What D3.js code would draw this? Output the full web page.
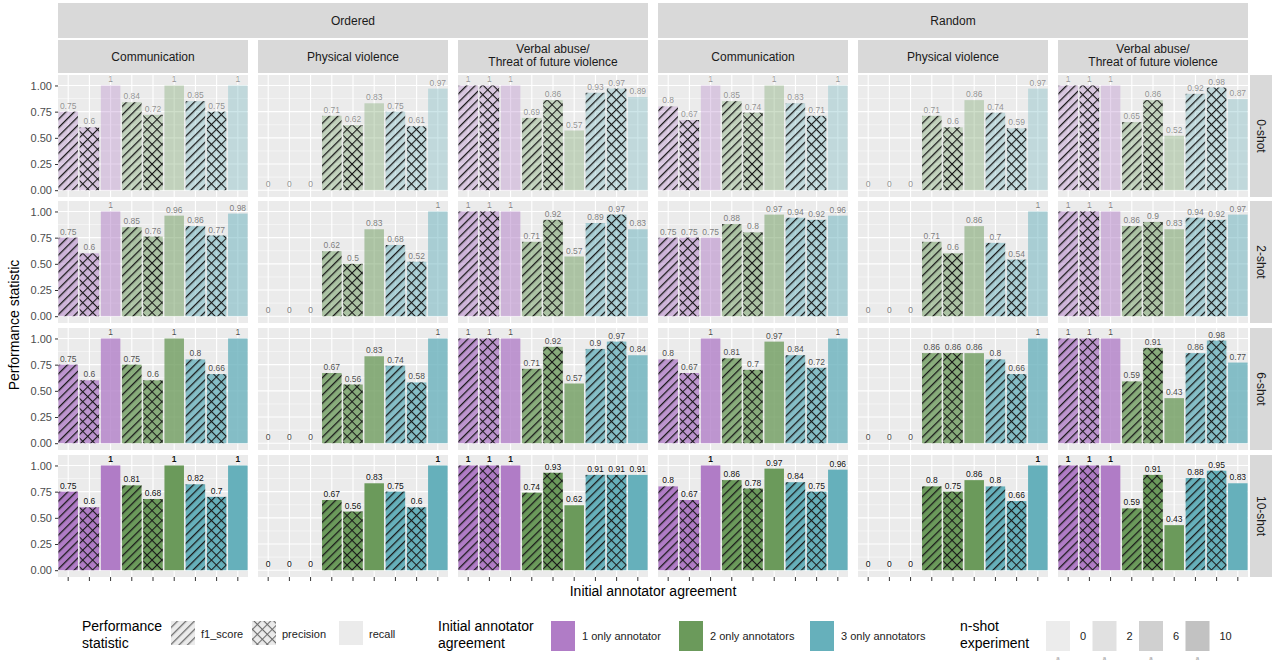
<!DOCTYPE html>
<html><head><meta charset="utf-8">
<script src="https://cdn.jsdelivr.net/npm/d3@7"></script>
<style>body{margin:0;background:#fff;font-family:"Liberation Sans",Arial,sans-serif}</style>
</head><body><svg id="c" width="1280" height="663"></svg>
<script>
const orders=["Ordered","Random"];
const categories=["Communication","Physical violence","Verbal abuse/\nThreat of future violence"];
const shots=["0-shot","2-shot","6-shot","10-shot"];
const agreements=["1 only annotator","2 only annotators","3 only annotators"];
const stats=["f1_score","precision","recall"];
const yTicks=[0,0.25,0.5,0.75,1];
// values[row][panel] : 9 bars (agreement x stat)
const shot0=[[.75,.6,1,.84,.72,1,.85,.75,1],[0,0,0,.71,.62,.83,.75,.61,.97],[1,1,1,.69,.86,.57,.93,.97,.89],
 [.8,.67,1,.85,.74,1,.83,.71,1],[0,0,0,.71,.6,.86,.74,.59,.97],[1,1,1,.65,.86,.52,.92,.98,.87]];
const shot2=[[.75,.6,1,.85,.76,.96,.86,.77,.98],[0,0,0,.62,.5,.83,.68,.52,1],[1,1,1,.71,.92,.57,.89,.97,.83],
 [.75,.75,.75,.88,.8,.97,.94,.92,.96],[0,0,0,.71,.6,.86,.7,.54,1],[1,1,1,.86,.9,.83,.94,.92,.97]];
const shot6=[[.75,.6,1,.75,.6,1,.8,.66,1],[0,0,0,.67,.56,.83,.74,.58,1],[1,1,1,.71,.92,.57,.9,.97,.84],
 [.8,.67,1,.81,.7,.97,.84,.72,1],[0,0,0,.86,.86,.86,.8,.66,1],[1,1,1,.59,.91,.43,.86,.98,.77]];
const shot10=[[.75,.6,1,.81,.68,1,.82,.7,1],[0,0,0,.67,.56,.83,.75,.6,1],[1,1,1,.74,.93,.62,.91,.91,.91],
 [.8,.67,1,.86,.78,.97,.84,.75,.96],[0,0,0,.8,.75,.86,.8,.66,1],[1,1,1,.59,.91,.43,.88,.95,.83]];
const values=[shot0,shot2,shot6,shot10];
const nshot=["0","2","6","10"];

const colors=["#b07cc6","#6b9a5b","#66b0bb"];
const alphas=[0.32,0.5,0.78,1];
const svg=d3.select("#c");
const defs=svg.append("defs");
const ps=defs.append("pattern").attr("id","stripe").attr("patternUnits","userSpaceOnUse").attr("width",6).attr("height",6).attr("patternTransform","rotate(45)");
ps.append("line").attr("x1",0).attr("y1",0).attr("x2",0).attr("y2",6).attr("stroke","#1a1a1a").attr("stroke-width",2.6);
const pc=defs.append("pattern").attr("id","cross").attr("patternUnits","userSpaceOnUse").attr("width",7).attr("height",7).attr("patternTransform","rotate(45)");
pc.append("line").attr("x1",0).attr("y1",0).attr("x2",0).attr("y2",7).attr("stroke","#1a1a1a").attr("stroke-width",2.2);
pc.append("line").attr("x1",0).attr("y1",0).attr("x2",7).attr("y2",0).attr("stroke","#1a1a1a").attr("stroke-width",2.2);

const left=58,right=1248,gap=10,pw=(right-left-5*gap)/6;
const rowTop=[75,201,328,455],ph=122;
const x=d3.scaleBand().domain(d3.range(9)).range([0,pw]).paddingInner(0.08).paddingOuter(0.02);
const fmt=v=>String(+v.toFixed(2));

orders.forEach((o,oi)=>{
  const x0=left+oi*3*(pw+gap), w=3*pw+2*gap;
  svg.append("rect").attr("x",x0).attr("y",3).attr("width",w).attr("height",35).attr("fill","#d9d9d9");
  svg.append("text").attr("x",x0+w/2).attr("y",25).attr("text-anchor","middle").attr("font-size",12).attr("fill","#1a1a1a").text(o);
  categories.forEach((c,ci)=>{
    const px=left+(oi*3+ci)*(pw+gap);
    svg.append("rect").attr("x",px).attr("y",40).attr("width",pw).attr("height",33).attr("fill","#d9d9d9");
    const lines=c.split("\n");
    lines.forEach((l,li)=>svg.append("text").attr("x",px+pw/2).attr("y",lines.length==1?61:53+li*13).attr("text-anchor","middle").attr("font-size",12).attr("fill","#1a1a1a").text(l));
  });
});

shots.forEach((s,ri)=>{
  const top=rowTop[ri];
  const y=d3.scaleLinear().domain([-0.065,1.1]).range([top+ph,top]);
  svg.append("rect").attr("x",right+2).attr("y",top).attr("width",22).attr("height",ph).attr("fill","#d9d9d9");
  svg.append("text").attr("transform",`translate(${right+9},${top+ph/2}) rotate(90)`).attr("text-anchor","middle").attr("font-size",12).attr("fill","#1a1a1a").text(s);
  const ax=svg.append("g").attr("transform",`translate(${left},0)`).call(d3.axisLeft(y).tickValues(yTicks).tickFormat(d3.format(".2f")).tickSize(3));
  ax.select(".domain").remove();
  ax.selectAll("text").attr("font-size",11).attr("fill","#4d4d4d").attr("font-family","Liberation Sans,Arial");
  ax.selectAll("line").attr("stroke","#333");
  for(let p=0;p<6;p++){
    const px=left+p*(pw+gap);
    const g=svg.append("g").attr("transform",`translate(${px},0)`);
    g.append("rect").attr("x",0).attr("y",top).attr("width",pw).attr("height",ph).attr("fill","#ebebeb");
    [0.125,0.375,0.625,0.875].forEach(t=>g.append("line").attr("x1",0).attr("x2",pw).attr("y1",y(t)).attr("y2",y(t)).attr("stroke","#fff").attr("stroke-width",0.5));
    yTicks.forEach(t=>g.append("line").attr("x1",0).attr("x2",pw).attr("y1",y(t)).attr("y2",y(t)).attr("stroke","#fff").attr("stroke-width",1.1));
    d3.range(9).forEach(i=>g.append("line").attr("x1",x(i)+x.bandwidth()/2).attr("x2",x(i)+x.bandwidth()/2).attr("y1",top).attr("y2",top+ph).attr("stroke","#fff").attr("stroke-width",1.1));
    values[ri][p].forEach((v,i)=>{
      const a=Math.floor(i/3), st=i%3;
      if(v>0){
        g.append("rect").attr("x",x(i)).attr("y",y(v)).attr("width",x.bandwidth()).attr("height",y(0)-y(v)).attr("fill",colors[a]).attr("fill-opacity",alphas[ri]);
        if(st<2) g.append("rect").attr("x",x(i)).attr("y",y(v)).attr("width",x.bandwidth()).attr("height",y(0)-y(v)).attr("fill",`url(#${st==0?"stripe":"cross"})`);
      }
      g.append("text").attr("x",x(i)+x.bandwidth()/2).attr("y",y(v)-3).attr("text-anchor","middle").attr("font-size",8.5).attr("fill","#000").attr("fill-opacity",0.35+0.6*alphas[ri]*alphas[ri]).attr("font-weight",ri==3&&v==1?"bold":"normal").text(fmt(v));
    });
    if(ri==3) d3.range(9).forEach(i=>g.append("line").attr("x1",x(i)+x.bandwidth()/2).attr("x2",x(i)+x.bandwidth()/2).attr("y1",top+ph).attr("y2",top+ph+4).attr("stroke","#333"));
  }
});

svg.append("text").attr("x",653).attr("y",596).attr("text-anchor","middle").attr("font-size",14).attr("fill","#000").text("Initial annotator agreement");
svg.append("text").attr("transform","translate(19,325) rotate(-90)").attr("text-anchor","middle").attr("font-size",14).attr("fill","#000").text("Performance statistic");

const L=svg.append("g");
function ttl(xx,l1,l2){L.append("text").attr("x",xx).attr("y",631).attr("font-size",14).text(l1);L.append("text").attr("x",xx).attr("y",648).attr("font-size",14).text(l2);}
ttl(82,"Performance","statistic");
stats.forEach((s,i)=>{
  const xx=[171,252,339][i];
  L.append("rect").attr("x",xx).attr("y",621).attr("width",24).attr("height",24).attr("fill","#ebebeb");
  if(i<2) L.append("rect").attr("x",xx).attr("y",621).attr("width",24).attr("height",24).attr("fill",`url(#${i==0?"stripe":"cross"})`).attr("opacity",0.6);
  L.append("text").attr("x",xx+30).attr("y",638).attr("font-size",11).attr("fill","#222").text(s);
});
ttl(438,"Initial annotator","agreement");
agreements.forEach((a,i)=>{
  const xx=[551,679,810][i];
  L.append("rect").attr("x",xx).attr("y",621).attr("width",24).attr("height",30).attr("fill",colors[i]);
  L.append("text").attr("x",xx+31).attr("y",640).attr("font-size",11).attr("fill","#222").text(a);
});
ttl(960,"n-shot","experiment");
nshot.forEach((n,i)=>{
  const xx=1046+i*46.5;
  L.append("rect").attr("x",xx).attr("y",621).attr("width",24).attr("height",30).attr("fill","#9a9a9a").attr("fill-opacity",alphas[i]*0.6);
  L.append("text").attr("x",xx+34).attr("y",640).attr("font-size",11).attr("fill","#222").text(n);
  L.append("text").attr("x",xx+12).attr("y",660).attr("text-anchor","middle").attr("font-size",6).attr("fill","#999").text("a");
});
</script></body></html>
